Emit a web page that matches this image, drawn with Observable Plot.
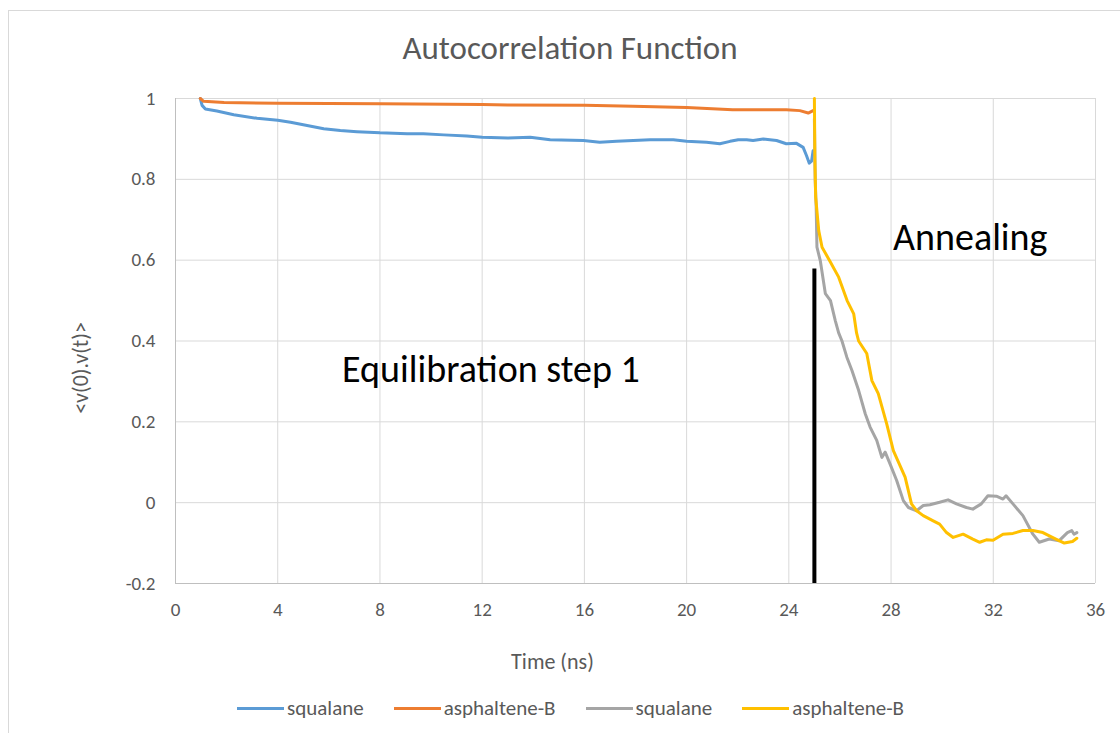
<!DOCTYPE html>
<html>
<head>
<meta charset="utf-8">
<script src="https://cdn.jsdelivr.net/npm/d3@7"></script>
<script src="https://cdn.jsdelivr.net/npm/@observablehq/plot@0.6"></script>
<style>
  html, body { margin: 0; padding: 0; background: #fff; }
  #chart { position: relative; width: 1120px; height: 733px; overflow: hidden;
           font-family: Calibri, Carlito, Lato, "Open Sans", sans-serif; color: #595959; }
  #border { position: absolute; left: 8px; top: 10px; width: 1140px; height: 760px;
            border: 1px solid #d9d9d9; box-sizing: border-box; }
  #title { position: absolute; left: 0; width: 1140px; top: 32px; text-align: center;
           font-size: 33px; line-height: 33px; font-weight: 300; color: #595959; }
  #plot { position: absolute; left: 0; top: 80px; }
  #legend { position: absolute; left: 237px; top: 696px; display: flex; align-items: center;
            font-size: 21px; line-height: 24px; color: #595959; white-space: nowrap; }
  .item { display: flex; align-items: center; margin-right: 30px; }
  .sw { width: 47px; height: 3px; margin-right: 3px; }
</style>
</head>
<body>
<div id="chart">
  <div id="border"></div>
  <div id="title"></div>
  <div id="plot"></div>
  <div id="legend"></div>
</div>
<script>
// ---- Chart text ----
const chartTitle = "Autocorrelation Function";
const xLabel = "Time (ns)";
const yLabel = "<v(0).v(t)>";

// ---- Axes ----
const xDomain = [0, 36];
const yDomain = [-0.2, 1];
const xTicks = [0, 4, 8, 12, 16, 20, 24, 28, 32, 36];
const xTickLabels = ["0", "4", "8", "12", "16", "20", "24", "28", "32", "36"];
const yTicks = [-0.2, 0, 0.2, 0.4, 0.6, 0.8, 1];
const yTickLabels = ["-0.2", "0", "0.2", "0.4", "0.6", "0.8", "1"];

// ---- Series (legend names, ids, colours) ----
const seriesIds = ["squalane1", "asphaltene1", "squalane2", "asphaltene2"];
const seriesNames = ["squalane", "asphaltene-B", "squalane", "asphaltene-B"];
const seriesColors = ["#5B9BD5", "#ED7D31", "#A5A5A5", "#FFC000"];

// Equilibration step 1 — squalane (blue)
const squalane1T = [0.97, 1.04, 1.17, 1.62, 2.28, 3.19, 4.0, 4.5, 5.15, 5.8, 6.45, 7.1, 8.0, 9.07, 9.7, 10.5, 11.4, 12.0, 13.0, 13.88, 14.66, 15.96, 16.6, 17.26, 18.57, 19.48, 20.0, 20.78, 21.3, 21.7, 22.02, 22.35, 22.6, 23.0, 23.52, 23.9, 24.3, 24.56, 24.69, 24.8, 24.89, 24.95];
const squalane1V = [1.0, 0.983, 0.974, 0.969, 0.960, 0.951, 0.946, 0.941, 0.933, 0.925, 0.921, 0.918, 0.915, 0.913, 0.913, 0.910, 0.907, 0.904, 0.902, 0.904, 0.898, 0.896, 0.892, 0.894, 0.898, 0.898, 0.894, 0.892, 0.888, 0.894, 0.898, 0.898, 0.896, 0.900, 0.896, 0.888, 0.889, 0.879, 0.859, 0.840, 0.845, 0.871];

// Equilibration step 1 — asphaltene-B (orange)
const asphaltene1T = [0.97, 1.1, 1.9, 4.0, 8.0, 12.0, 13.0, 16.0, 17.9, 20.0, 21.8, 22.87, 23.9, 24.43, 24.76, 24.95];
const asphaltene1V = [1.0, 0.993, 0.990, 0.988, 0.987, 0.985, 0.984, 0.983, 0.981, 0.978, 0.972, 0.972, 0.972, 0.970, 0.964, 0.970];

// Annealing — squalane (gray)
const squalane2T = [25.0, 25.03, 25.07, 25.1, 25.23, 25.43, 25.63, 25.82, 25.95, 26.08, 26.27, 26.47, 26.73, 26.99, 27.18, 27.44, 27.64, 27.77, 27.96, 28.22, 28.48, 28.68, 29.0, 29.26, 29.52, 29.9, 30.23, 30.56, 30.95, 31.2, 31.53, 31.79, 32.12, 32.38, 32.5, 32.77, 33.16, 33.55, 33.8, 34.19, 34.58, 34.9, 35.07, 35.16, 35.27];
const squalane2V = [0.95, 0.8, 0.731, 0.632, 0.599, 0.517, 0.5, 0.45, 0.42, 0.40, 0.36, 0.327, 0.278, 0.22, 0.187, 0.154, 0.112, 0.125, 0.096, 0.055, 0.005, -0.012, -0.02, -0.007, -0.005, 0.001, 0.007, -0.003, -0.012, -0.016, -0.003, 0.017, 0.016, 0.009, 0.017, -0.003, -0.032, -0.078, -0.098, -0.09, -0.094, -0.074, -0.069, -0.078, -0.074];

// Annealing — asphaltene-B (yellow)
const asphaltene2T = [25.0, 25.02, 25.05, 25.17, 25.30, 25.63, 25.95, 26.28, 26.54, 26.65, 26.73, 27.05, 27.25, 27.5, 27.83, 28.09, 28.55, 28.8, 29.0, 29.26, 29.65, 29.9, 30.17, 30.43, 30.82, 31.2, 31.47, 31.73, 31.99, 32.38, 32.77, 33.16, 33.55, 33.94, 34.45, 34.78, 35.1, 35.27];
const asphaltene2V = [1.0, 0.85, 0.756, 0.673, 0.632, 0.595, 0.558, 0.5, 0.467, 0.42, 0.40, 0.369, 0.302, 0.27, 0.195, 0.129, 0.063, -0.003, -0.02, -0.032, -0.045, -0.053, -0.074, -0.086, -0.078, -0.09, -0.098, -0.092, -0.093, -0.078, -0.076, -0.069, -0.069, -0.074, -0.09, -0.1, -0.096, -0.088];

// Divider between stages (black bar)
const dividerT = [25.0];
const dividerTop = [0.578];

// Annotations
const annotationLabels = ["Equilibration step 1", "Annealing"];
const annotationT = [6.52, 28.08];
const annotationV = [0.329, 0.655];

// ---- Build table ----
const seriesT = [squalane1T, asphaltene1T, squalane2T, asphaltene2T];
const seriesV = [squalane1V, asphaltene1V, squalane2V, asphaltene2V];
const table = [];
seriesIds.forEach((id, i) => {
  seriesT[i].forEach((t, j) => table.push({series: id, t, v: seriesV[i][j]}));
});
const dividers = dividerT.map((t, i) => ({t, top: dividerTop[i], bottom: yDomain[0]}));
const annotations = annotationLabels.map((label, i) => ({label, t: annotationT[i], v: annotationV[i]}));

const fontStack = "Calibri, Carlito, Lato, 'Open Sans', sans-serif";

const plot = Plot.plot({
  width: 1120,
  height: 600,
  marginLeft: 175,
  marginRight: 25,
  marginTop: 18,
  marginBottom: 97,
  style: {fontFamily: fontStack, fontSize: "19px", color: "#595959", background: "transparent", overflow: "visible"},
  x: {domain: xDomain, ticks: xTicks},
  y: {domain: yDomain, ticks: yTicks},
  color: {domain: seriesIds, range: seriesColors},
  marks: [
    Plot.gridX(xTicks, {stroke: "#d9d9d9", strokeOpacity: 1, strokeWidth: 1}),
    Plot.gridY(yTicks, {stroke: "#d9d9d9", strokeOpacity: 1, strokeWidth: 1}),
    Plot.ruleY([yDomain[0]], {stroke: "#bfbfbf", strokeWidth: 1}),
    Plot.ruleX([xDomain[0]], {stroke: "#bfbfbf", strokeWidth: 1}),
    Plot.axisX({ticks: xTicks, tickSize: 0, tickPadding: 19, label: null,
      tickFormat: d => xTickLabels[xTicks.indexOf(d)], fontSize: 19}),
    Plot.axisY({ticks: yTicks, tickSize: 0, tickPadding: 20, label: null,
      tickFormat: d => yTickLabels[yTicks.findIndex(y => Math.abs(y - d) < 1e-9)], fontSize: 19}),
    Plot.line(table, {x: "t", y: "v", z: "series", stroke: "series", strokeWidth: 3,
      strokeLinejoin: "round", strokeLinecap: "round"}),
    Plot.ruleX(dividers, {x: "t", y1: "top", y2: "bottom", stroke: "#000", strokeWidth: 4}),
    Plot.text(annotations, {x: "t", y: "v", text: "label", textAnchor: "start", lineAnchor: "middle",
      fontSize: 38, fill: "#000"}),
    Plot.text([xLabel], {frameAnchor: "bottom", text: d => d, dx: -83, dy: 78, textAnchor: "middle",
      lineAnchor: "middle", fontSize: 22, fill: "#595959"}),
    Plot.text([yLabel], {frameAnchor: "left", text: d => d, dx: -95, dy: 27, rotate: -90,
      textAnchor: "middle", lineAnchor: "middle", fontSize: 22, fill: "#595959"})
  ]
});
document.getElementById("plot").appendChild(plot);
document.getElementById("title").textContent = chartTitle;

const legend = document.getElementById("legend");
seriesIds.forEach((id, i) => {
  const item = document.createElement("div");
  item.className = "item";
  const sw = document.createElement("span");
  sw.className = "sw";
  sw.style.background = seriesColors[i];
  const lab = document.createElement("span");
  lab.textContent = seriesNames[i];
  item.appendChild(sw);
  item.appendChild(lab);
  legend.appendChild(item);
});
</script>
</body>
</html>
